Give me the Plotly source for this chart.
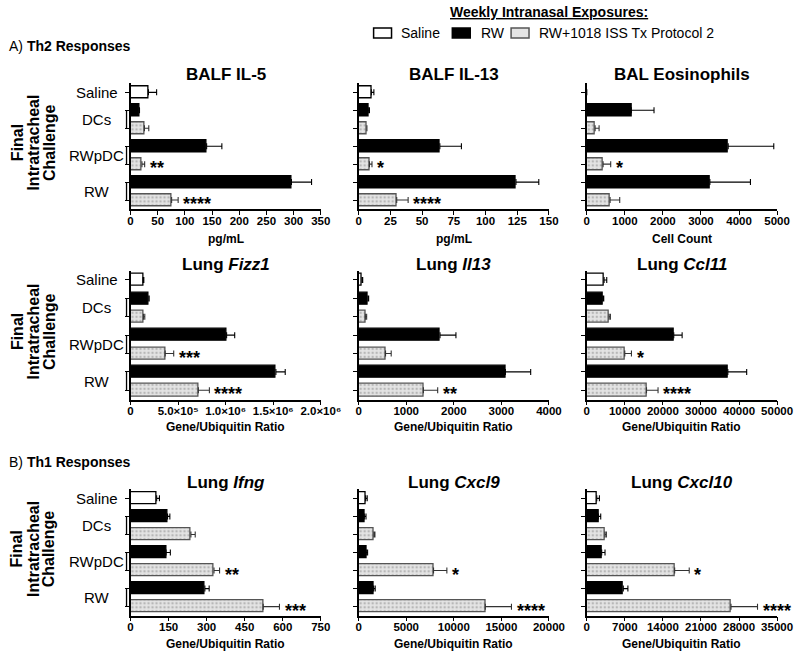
import plotly.graph_objects as go

# The photographed page is squeezed horizontally (about 820 px of page -> 800 px
# of picture), so the figure is drawn 820 px wide and positioned in 800-px units.
REF_W, H = 800, 656
FIG_W = 820
FONT = "Liberation Sans, Arial, sans-serif"

# ---------------- data ----------------
group_labels = ["Saline", "DCs", "RWpDC", "RW"]
group_pos = [0, 1.5, 3.5, 5.5]
series_names = ["Saline", "RW", "RW+1018 ISS Tx Protocol 2"]
# bar order (top -> bottom):
# Saline/Saline, DCs/RW, DCs/Tx, RWpDC/RW, RWpDC/Tx, RW/RW, RW/Tx

il5_mean = [33, 16.5, 25.6, 140, 21, 296, 75.6]
il5_sem = [15, 0, 8, 28, 5, 37, 12]
il5_sig = ["", "", "", "", "**", "", "****"]

il13b_mean = [10, 7.5, 6.5, 64, 8.5, 124, 30]
il13b_sem = [2, 1, 0, 17, 2, 18, 9]
il13b_sig = ["", "", "", "", "*", "", "****"]

eos_mean = [0, 1170, 218, 3715, 428, 3234, 612]
eos_sem = [0, 596, 105, 1198, 200, 1066, 253]
eos_sig = ["", "", "", "", "*", "", ""]

fizz1_mean = [132000, 192000, 136000, 1010000, 364000, 1528000, 713000]
fizz1_sem = [8000, 4000, 14000, 85000, 90000, 98000, 116000]
fizz1_sig = ["", "", "", "", "***", "", "****"]

il13_mean = [70, 195, 140, 1710, 565, 3085, 1361]
il13_sem = [15, 15, 28, 335, 119, 531, 300]
il13_sig = ["", "", "", "", "", "", "**"]

ccl11_mean = [4540, 4190, 5850, 22850, 9980, 37060, 15690]
ccl11_sem = [700, 260, 350, 2200, 1750, 4950, 3030]
ccl11_sig = ["", "", "", "", "*", "", "****"]

ifng_mean = [103, 146, 238, 140, 329, 293, 523]
ifng_sem = [11, 9, 17, 17, 22, 17, 64]
ifng_sig = ["", "", "", "", "**", "", "***"]

cxcl9_mean = [730, 590, 1600, 800, 7870, 1570, 13310]
cxcl9_sem = [170, 180, 110, 140, 1400, 170, 2750]
cxcl9_sig = ["", "", "", "", "*", "", "****"]

cxcl10_mean = [1830, 2130, 3350, 2740, 16160, 6710, 26520]
cxcl10_sem = [490, 430, 250, 610, 2680, 850, 4880]
cxcl10_sig = ["", "", "", "", "*", "", "****"]

fizz1_ticks = [0, 500000, 1000000, 1500000, 2000000]
fizz1_ticktext = ["0", "5.0×10⁵", "1.0×10⁶", "1.5×10⁶", "2.0×10⁶"]

panels = [
    dict(title="<b>BALF IL-5</b>", mean=il5_mean, sem=il5_sem, sig=il5_sig,
         xmax=350, dtick=50, xtitle="pg/mL"),
    dict(title="<b>BALF IL-13</b>", mean=il13b_mean, sem=il13b_sem, sig=il13b_sig,
         xmax=150, dtick=25, xtitle="pg/mL"),
    dict(title="<b>BAL Eosinophils</b>", mean=eos_mean, sem=eos_sem, sig=eos_sig,
         xmax=5000, dtick=1000, xtitle="Cell Count"),
    dict(title="<b>Lung <i>Fizz1</i></b>", mean=fizz1_mean, sem=fizz1_sem, sig=fizz1_sig,
         xmax=2000000, dtick=500000, xtitle="Gene/Ubiquitin Ratio",
         tickvals=fizz1_ticks, ticktext=fizz1_ticktext),
    dict(title="<b>Lung <i>Il13</i></b>", mean=il13_mean, sem=il13_sem, sig=il13_sig,
         xmax=4000, dtick=1000, xtitle="Gene/Ubiquitin Ratio"),
    dict(title="<b>Lung <i>Ccl11</i></b>", mean=ccl11_mean, sem=ccl11_sem, sig=ccl11_sig,
         xmax=50000, dtick=10000, xtitle="Gene/Ubiquitin Ratio"),
    dict(title="<b>Lung <i>Ifng</i></b>", mean=ifng_mean, sem=ifng_sem, sig=ifng_sig,
         xmax=750, dtick=150, xtitle="Gene/Ubiquitin Ratio"),
    dict(title="<b>Lung <i>Cxcl9</i></b>", mean=cxcl9_mean, sem=cxcl9_sem, sig=cxcl9_sig,
         xmax=20000, dtick=5000, xtitle="Gene/Ubiquitin Ratio"),
    dict(title="<b>Lung <i>Cxcl10</i></b>", mean=cxcl10_mean, sem=cxcl10_sem, sig=cxcl10_sig,
         xmax=35000, dtick=7000, xtitle="Gene/Ubiquitin Ratio"),
]

# ---------------- layout geometry (reference pixels) ----------------
col_left = [128, 357, 586]
col_w = 191
row_px = [(83.4, 209.0), (270.8, 399.5), (489.3, 615.7)]
title_py = [74, 264, 482]
xtitle_py = [239, 427, 644]
SX = FIG_W / REF_W  # horizontal page pixels per reference pixel


def px(x):
    return x / REF_W


def py(y):
    return 1 - y / H


fig = go.Figure()
annotations = []
shapes = []
layout = {}

saline_idx = [0]
rw_idx = [1, 3, 5]
tx_idx = [2, 4, 6]

TX_FILL = "#e4e4e4"
TX_LINE = "#555555"

for i, p in enumerate(panels):
    r, c = divmod(i, 3)
    n = i + 1
    xa = "x" if n == 1 else f"x{n}"
    ya = "y" if n == 1 else f"y{n}"
    xkey = "xaxis" if n == 1 else f"xaxis{n}"
    ykey = "yaxis" if n == 1 else f"yaxis{n}"
    mean, sem = p["mean"], p["sem"]

    def sub(lst, idx):
        return [lst[k] for k in idx]

    fig.add_trace(go.Bar(
        x=sub(mean, saline_idx), y=saline_idx, orientation="h", width=0.66,
        marker=dict(color="white", line=dict(color="black", width=1.3)),
        error_x=dict(type="data", symmetric=False, array=sub(sem, saline_idx),
                     arrayminus=[0], color="black", thickness=1.1, width=3),
        name=series_names[0], showlegend=False, xaxis=xa, yaxis=ya))
    fig.add_trace(go.Bar(
        x=sub(mean, rw_idx), y=rw_idx, orientation="h", width=0.66,
        marker=dict(color="black", line=dict(color="black", width=1.3)),
        error_x=dict(type="data", symmetric=False, array=sub(sem, rw_idx),
                     arrayminus=[0, 0, 0], color="black", thickness=1.1, width=3),
        name=series_names[1], showlegend=False, xaxis=xa, yaxis=ya))
    fig.add_trace(go.Bar(
        x=sub(mean, tx_idx), y=tx_idx, orientation="h", width=0.66,
        marker=dict(color=TX_FILL, line=dict(color=TX_LINE, width=1.3),
                    pattern=dict(shape=".", fgcolor="#8a8a8a", bgcolor=TX_FILL,
                                 size=4, solidity=0.3)),
        error_x=dict(type="data", symmetric=False, array=sub(sem, tx_idx),
                     arrayminus=[0, 0, 0], color="#333333", thickness=1.1, width=3),
        name=series_names[2], showlegend=False, xaxis=xa, yaxis=ya))

    x0 = col_left[c]
    top, bot = row_px[r]
    if "tickvals" in p:
        tv, tt = p["tickvals"], p["ticktext"]
    else:
        tv = list(range(0, p["xmax"] + 1, p["dtick"]))
        tt = [str(v) for v in tv]
    layout[xkey] = dict(
        domain=[px(x0), px(x0 + col_w)], anchor=ya, range=[0, p["xmax"]],
        tickvals=tv, ticktext=tt, ticks="outside", ticklen=4, tickwidth=1.3,
        tickcolor="black", showline=True, linecolor="black", linewidth=1.5,
        showgrid=False, zeroline=False, fixedrange=True, ticklabelstandoff=-4,
        tickfont=dict(family=FONT, size=11.5, color="black", weight="bold"),
    )
    layout[ykey] = dict(
        domain=[py(bot), py(top)], anchor=xa, range=[6.5, -0.5],
        tickvals=list(range(7)), showticklabels=False, ticks="outside",
        ticklen=4, tickwidth=1.3, tickcolor="black", showline=True,
        linecolor="black", linewidth=1.5, showgrid=False, zeroline=False,
        fixedrange=True,
    )

    annotations.append(dict(
        text=p["title"], x=px(x0 + col_w / 2), y=py(title_py[r]), xref="paper",
        yref="paper", showarrow=False, xanchor="center", yanchor="middle",
        font=dict(family=FONT, size=17, color="black")))
    annotations.append(dict(
        text="<b>" + p["xtitle"] + "</b>", x=px(x0 + col_w / 2), y=py(xtitle_py[r]),
        xref="paper", yref="paper", showarrow=False, xanchor="center",
        yanchor="middle", font=dict(family=FONT, size=12, color="black")))
    for k, s in enumerate(p["sig"]):
        if s:
            annotations.append(dict(
                text="<b>" + s + "</b>", x=mean[k] + sem[k], y=k, xref=xa, yref=ya,
                showarrow=False, xanchor="left", yanchor="middle", xshift=3 * SX,
                yshift=-4, font=dict(family=FONT, size=18, color="black")))

    if c == 0:
        for lbl, gp in zip(group_labels, group_pos):
            annotations.append(dict(
                text=lbl, x=px(94), y=gp, xref="paper", yref=ya, showarrow=False,
                xanchor="center", yanchor="middle",
                font=dict(family=FONT, size=15, color="black")))
        for g0 in [1, 3, 5]:
            shapes.append(dict(
                type="line", xref=f"{xa} domain", yref=ya, x0=-4 / col_w,
                x1=-4 / col_w, y0=g0, y1=g0 + 1,
                line=dict(color="black", width=1.3)))
        mid = (top + bot) / 2 - 4
        for txt, xx in [("Final", 14), ("Intratracheal", 30.5), ("Challenge", 46)]:
            annotations.append(dict(
                text="<b>" + txt + "</b>", x=px(xx), y=py(mid), xref="paper",
                yref="paper", showarrow=False, textangle=-90, xanchor="center",
                yanchor="middle", font=dict(family=FONT, size=16, color="black")))

# section labels
for txt, yy in [("A) <b>Th2 Responses</b>", 46), ("B) <b>Th1 Responses</b>", 462)]:
    annotations.append(dict(text=txt, x=px(4), y=py(yy), xref="paper", yref="paper",
                            showarrow=False, xanchor="left", yanchor="middle",
                            font=dict(family=FONT, size=14, color="black")))

# ---------------- manual legend ----------------
annotations.append(dict(text="<b><u>Weekly Intranasal Exposures:</u></b>",
                        x=px(548), y=py(12), xref="paper", yref="paper",
                        showarrow=False, xanchor="center", yanchor="middle",
                        font=dict(family=FONT, size=14, color="black")))
leg_y = 33
leg_items = [
    (372, 397, "white", "black"),
    (451, 478, "black", "black"),
    (510, 536, TX_FILL, TX_LINE),
]
for (bx, tx, fill, line), name in zip(leg_items, series_names):
    shapes.append(dict(type="rect", xref="paper", yref="paper",
                       x0=px(bx), x1=px(bx + 18), y0=py(leg_y + 5), y1=py(leg_y - 5),
                       fillcolor=fill, line=dict(color=line, width=1.5)))
    annotations.append(dict(text=name, x=px(tx), y=py(leg_y), xref="paper",
                            yref="paper", showarrow=False, xanchor="left",
                            yanchor="middle",
                            font=dict(family=FONT, size=14, color="black")))

fig.update_layout(
    width=FIG_W, height=H, autosize=False, margin=dict(l=0, r=0, t=0, b=0),
    paper_bgcolor="white", plot_bgcolor="white",
    barmode="overlay", bargap=0,
    font=dict(family=FONT, color="black"),
    showlegend=False,
    annotations=annotations, shapes=shapes,
    **layout,
)

fig.write_html(
    "out.html",
    config={"displayModeBar": False, "responsive": False},
    post_script="document.body.style.margin='0';"
                "document.documentElement.style.overflow='hidden';",
)
